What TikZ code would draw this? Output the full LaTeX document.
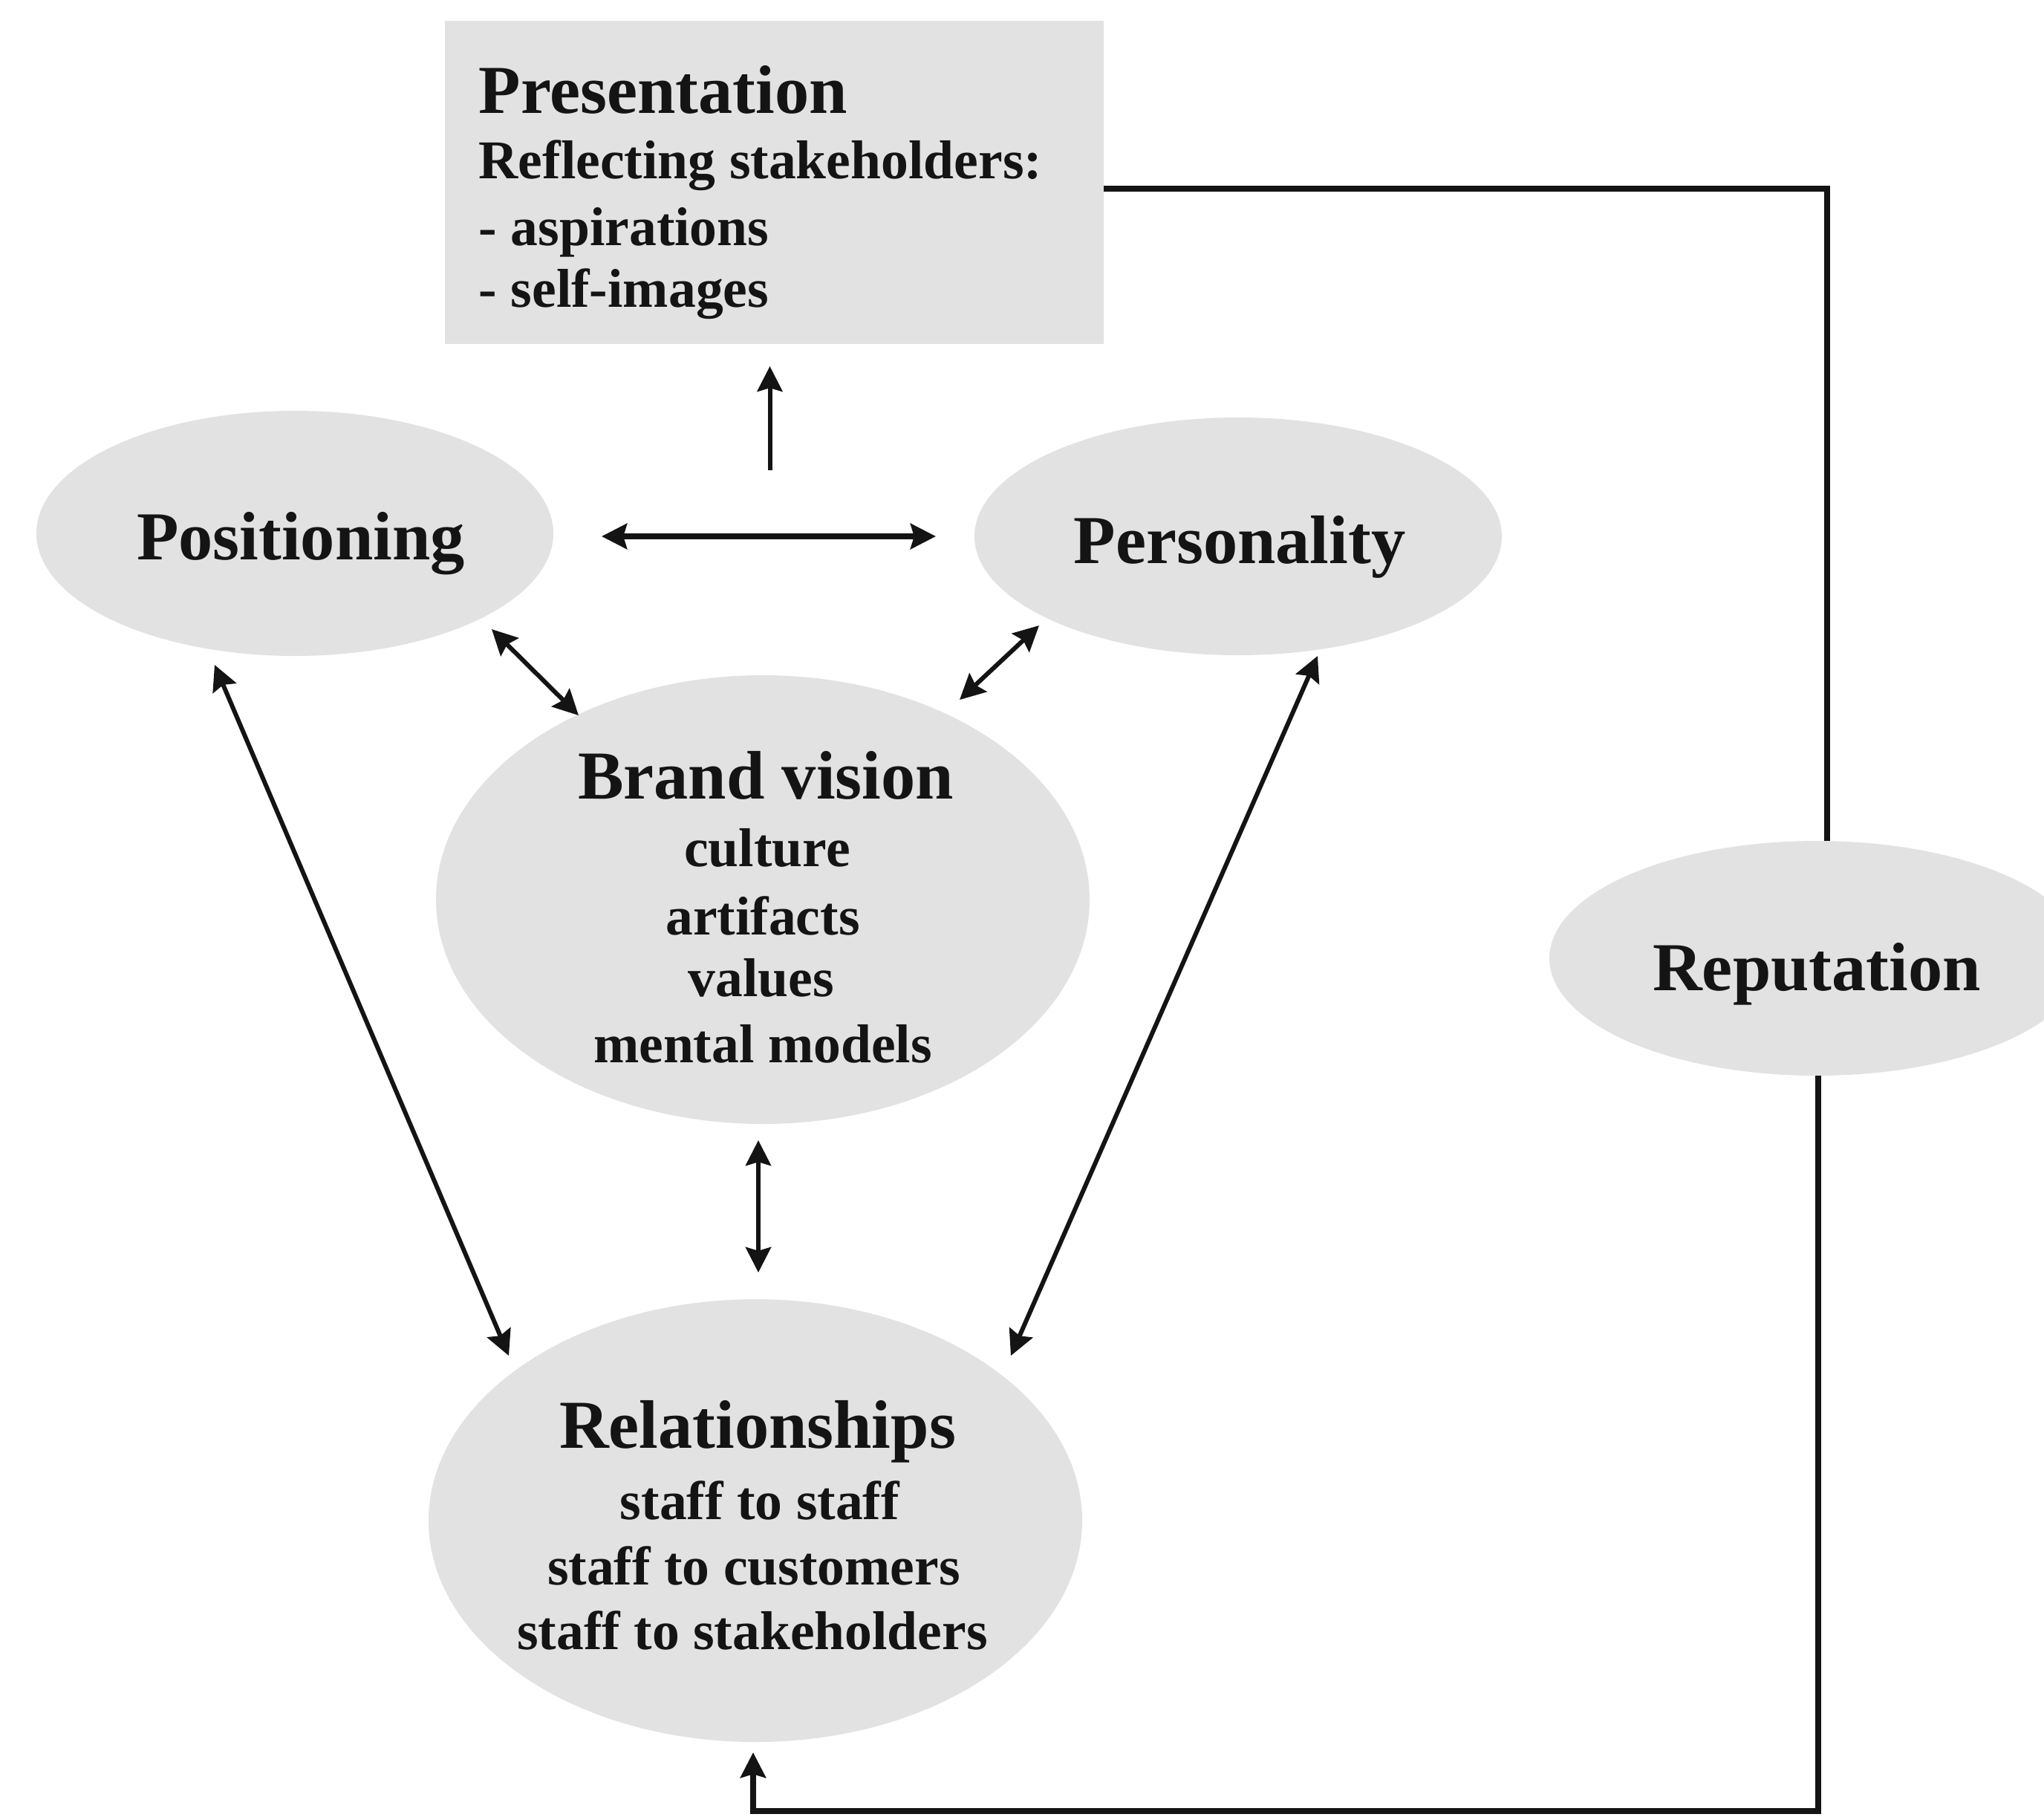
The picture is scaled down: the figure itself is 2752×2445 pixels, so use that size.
\documentclass[tikz,border=0pt]{standalone}
\usepackage{fontspec}
\setmainfont{Liberation Serif}
\usetikzlibrary{arrows.meta,calc,shapes.geometric}
\definecolor{shade}{RGB}{226,226,226}
\definecolor{ink}{RGB}{20,20,20}
\begin{document}
\begin{tikzpicture}[x=0.25pt,y=-0.25pt,
  blob/.style={ellipse,fill=shade,draw=none,inner sep=0pt,outer sep=0pt},
  panel/.style={rectangle,fill=shade,draw=none,inner sep=0pt,outer sep=0pt},
  head/.style={font=\bfseries\fontsize{23.1}{27}\selectfont,text=ink,inner sep=0pt,anchor=base},
  item/.style={font=\bfseries\fontsize{18.4}{22}\selectfont,text=ink,inner sep=0pt,anchor=base},
  tip/.tip={Stealth[length=8.5pt,width=8.5pt,inset=1.2pt]},
  link/.style={draw=ink,line width=1.5pt,tip-tip},
  onelink/.style={draw=ink,line width=1.5pt,-tip},
  heavy/.style={draw=ink,line width=2.1pt,tip-tip},
  loopline/.style={draw=ink,line width=2pt}
]
\clip (0,0) rectangle (2752,2445);

% shapes
\node[panel,minimum width=221.75pt,minimum height=108.75pt] (pres) at (1042.5,245.5) {};
\node[blob,minimum width=174pt,minimum height=82.5pt] (pos) at (397,718) {};
\node[blob,minimum width=177.5pt,minimum height=80pt] (pers) at (1667,722) {};
\node[blob,minimum width=220pt,minimum height=151pt] (bv) at (1027,1211) {};
\node[blob,minimum width=220pt,minimum height=149pt] (rel) at (1017,2047) {};
\node[blob,minimum width=180pt,minimum height=79pt] (rep) at (2446,1290) {};

% texts
\node[head,anchor=base west] (pres-t) at (644,152) {Presentation};
\node[item,anchor=base west] (pres-1) at (644,240) {Reflecting stakeholders:};
\node[item,anchor=base west] (pres-2) at (644,330) {- aspirations};
\node[item,anchor=base west] (pres-3) at (644,413) {- self-images};

\node[head] (pos-t) at (405,753) {Positioning};
\node[head] (pers-t) at (1669,758) {Personality};
\node[head] (rep-t) at (2446,1333) {Reputation};

\node[head] (bv-t) at (1031,1075) {Brand vision};
\node[item] (bv-1) at (1033,1166) {culture};
\node[item] (bv-2) at (1027,1258) {artifacts};
\node[item] (bv-3) at (1025,1341) {values};
\node[item] (bv-4) at (1027,1430) {mental models};

\node[head] (rel-t) at (1020,1949) {Relationships};
\node[item] (rel-1) at (1023,2045) {staff to staff};
\node[item] (rel-2) at (1015,2133) {staff to customers};
\node[item] (rel-3) at (1013,2220) {staff to stakeholders};

% connectors
\draw[onelink] ($(pres.south)+(-6,170)$) -- ($(pres.south)+(-6,30)$);
\draw[heavy] ($(pos.east)+(65,4)$) -- ($(pers.west)+(-52,0)$);
\draw[link] ($(pos)+(265,129)$) -- ($(bv)+(-248,-248)$);
\draw[link] ($(pers)+(-268,120)$) -- ($(bv)+(265,-269)$);
\draw[link] ($(pos)+(-108,177)$) -- ($(rel)+(-332,-222)$);
\draw[link] ($(pers)+(107,161)$) -- ($(rel)+(344,-222)$);
\draw[link] ($(bv)+(-6,324)$) -- ($(rel)+(4,-334)$);

% feedback loop through reputation
\draw[loopline] ($(pres.east)+(0,8)$) -| ($(rep.north)+(14,0)$);
\draw[loopline,-tip] ($(rep.south)+(2,0)$) |- ($(rel.south)+(-3,93)$) -- ($(rel.south)+(-3,14)$);
\end{tikzpicture}
\end{document}
